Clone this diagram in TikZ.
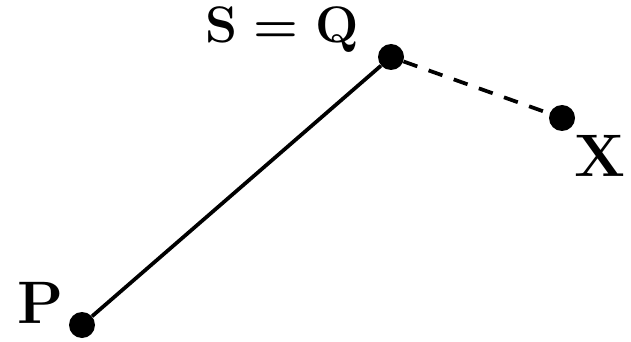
\documentclass[tikz,border=0pt]{standalone}
\usepackage{fix-cm}
\usetikzlibrary{positioning}
\tikzset{
  pt/.style={circle,fill=black,inner sep=0pt,minimum size=19.5pt},
  big/.style={font=\fontsize{45}{50}\selectfont\bfseries},
  small/.style={font=\fontsize{38.5}{42}\selectfont\boldmath},
  seg/.style={line width=2.8pt}
}
\begin{document}
\begin{tikzpicture}[x=0.75pt,y=-0.75pt]
	\useasboundingbox (0,0) rectangle (631,342);
	\node[pt] (P) at (82,325) {};
	\node[pt] (Q) at (391,57) {};
	\node[pt] (X) at (562,118) {};
	\draw[seg] (P) -- (Q);
	\draw[seg,dash pattern=on 11pt off 9pt] (Q) -- (X);
	\node[big] (lP) at (41,303) {P};
	\node[small,anchor=base] (lQ) at (282,43) {$\mathbf{S}=\mathbf{Q}$};
	\node[big] (lX) at (600,156) {X};
\end{tikzpicture}
\end{document}
